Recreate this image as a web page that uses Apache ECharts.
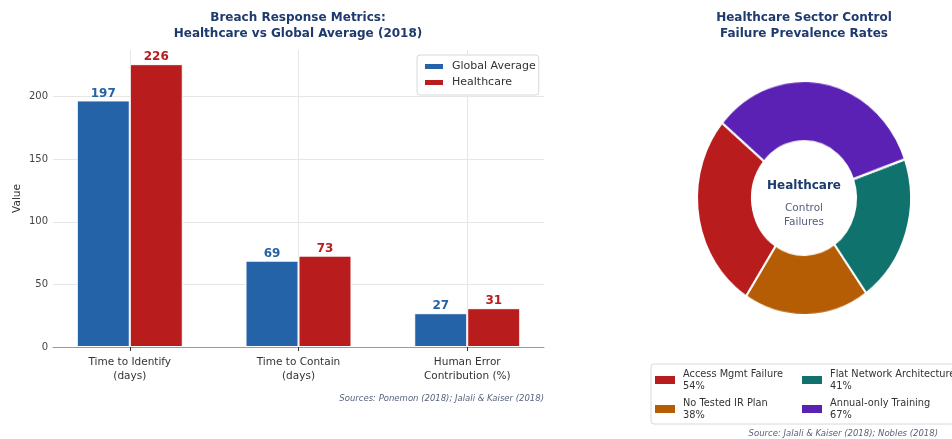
<!DOCTYPE html>
<html><head><meta charset="utf-8">
<script src="https://cdn.jsdelivr.net/npm/echarts@6/dist/echarts.min.js"></script>
<style>
html,body{margin:0;padding:0;background:#fff;}
#main{position:absolute;left:0;top:0;width:952px;height:439px;}
#pie{position:absolute;left:0;top:0;width:952px;height:439px;transform-origin:804px 198px;transform:scaleY(1.0935);pointer-events:none;}
</style></head><body>
<div id="main"></div><div id="pie"></div>
<script>
const categories = ['Time to Identify\n(days)', 'Time to Contain\n(days)', 'Human Error\nContribution (%)'];
const globalAverage = [197, 69, 27];
const healthcare = [226, 73, 31];
const yTicks = [0, 50, 100, 150, 200];
const failureNames = ['Access Mgmt Failure', 'No Tested IR Plan', 'Flat Network Architecture', 'Annual-only Training'];
const failureRates = [54, 38, 41, 67];

const BLUE = '#2563a8', RED = '#b91c1c', NAVY = '#1e3a6e';
const pieColors = ['#b91c1c', '#b45d04', '#0f726c', '#5b21b4'];
const FONT = 'DejaVu Sans';
const catIdx = categories.map((c, i) => i);

const pieData = failureNames.map((n, i) => ({ name: n, value: failureRates[i], itemStyle: { color: pieColors[i] } }));
const legendFmt = name => name + '\n' + failureRates[failureNames.indexOf(name)] + '%';

const main = echarts.init(document.getElementById('main'), null, { renderer: 'canvas' });
main.setOption({
  animation: false,
  textStyle: { fontFamily: FONT },
  title: [
    { text: 'Breach Response Metrics:\nHealthcare vs Global Average (2018)', left: 298, top: 10, textAlign: 'center', padding: 0,
      textStyle: { fontFamily: FONT, fontWeight: 'bold', fontSize: 12, color: NAVY, lineHeight: 16 } },
    { text: 'Healthcare Sector Control\nFailure Prevalence Rates', left: 804, top: 10, textAlign: 'center', padding: 0,
      textStyle: { fontFamily: FONT, fontWeight: 'bold', fontSize: 12, color: NAVY, lineHeight: 16 } },
    { text: 'Sources: Ponemon (2018); Jalali & Kaiser (2018)', right: 408, top: 394, padding: 0,
      textStyle: { fontFamily: FONT, fontStyle: 'italic', fontWeight: 'normal', fontSize: 8.5, color: '#56627a' } },
    { text: 'Source: Jalali & Kaiser (2018); Nobles (2018)', right: 14, top: 429, padding: 0,
      textStyle: { fontFamily: FONT, fontStyle: 'italic', fontWeight: 'normal', fontSize: 8.5, color: '#56627a' } },
    { text: 'Healthcare', left: 804, top: 180, textAlign: 'center', padding: 0,
      textStyle: { fontFamily: FONT, fontWeight: 'bold', fontSize: 12, color: NAVY } },
    { text: 'Control\nFailures', left: 804, top: 201, textAlign: 'center', padding: 0,
      textStyle: { fontFamily: FONT, fontWeight: 'normal', fontSize: 10.5, color: '#55607a', lineHeight: 14 } }
  ],
  legend: [
    { data: ['Global Average', 'Healthcare'], orient: 'vertical', left: 417, top: 55, icon: 'rect',
      itemWidth: 20, itemHeight: 7, itemGap: 5, padding: [6, 3, 7, 6], backgroundColor: '#fff',
      borderColor: '#d8d8d8', borderWidth: 1, borderRadius: 3,
      textStyle: { fontFamily: FONT, fontSize: 11, color: '#333', padding: [0, 0, 0, 3] } },
    { data: failureNames.slice(0, 2), orient: 'vertical', left: 651, top: 364, icon: 'rect',
      itemWidth: 20, itemHeight: 8, itemGap: 5, padding: [4, 180, 3, 4], backgroundColor: 'transparent',
      borderColor: '#d8d8d8', borderWidth: 1, borderRadius: 3, formatter: legendFmt,
      textStyle: { fontFamily: FONT, fontSize: 9.8, color: '#333', lineHeight: 12, padding: [0, 0, 0, 3] } },
    { data: failureNames.slice(2), orient: 'vertical', left: 798, top: 364, icon: 'rect',
      itemWidth: 20, itemHeight: 8, itemGap: 5, padding: [4, 4, 3, 4], formatter: legendFmt,
      textStyle: { fontFamily: FONT, fontSize: 9.8, color: '#333', lineHeight: 12, padding: [0, 0, 0, 3] } }
  ],
  grid: { left: 53, right: 408, top: 50, bottom: 92 },
  xAxis: {
    type: 'value', min: -0.455, max: 2.455, interval: 1,
    axisLine: { show: true, lineStyle: { color: '#9a9a9a', width: 1 } },
    axisTick: { show: true, customValues: catIdx, length: 4, lineStyle: { color: '#333' } },
    axisLabel: { customValues: catIdx, formatter: v => categories[Math.round(v)] || '', fontSize: 10.5, color: '#333', lineHeight: 14, margin: 8 },
    splitLine: { show: true, showMinLine: true, showMaxLine: true, lineStyle: { color: '#e6e6e6' } }
  },
  yAxis: {
    type: 'value', min: 0, max: 237.3, interval: 50,
    name: 'Value', nameLocation: 'middle', nameGap: 30, nameMoveOverlap: false, nameTextStyle: { fontSize: 10.5, color: '#333' },
    axisLine: { show: false }, axisTick: { show: false },
    axisLabel: { customValues: yTicks, fontSize: 10, color: '#444', margin: 5 },
    splitLine: { show: true, showMinLine: false, showMaxLine: false, lineStyle: { color: '#e6e6e6' } }
  },
  series: [
    { type: 'bar', name: 'Global Average', data: globalAverage.map((v, i) => [i, v]), barWidth: 53, barGap: '0%',
      itemStyle: { color: BLUE, borderColor: '#fff', borderWidth: 1 },
      label: { show: true, position: 'top', distance: 1, fontWeight: 'bold', fontSize: 12, color: BLUE, formatter: p => p.value[1] } },
    { type: 'bar', name: 'Healthcare', data: healthcare.map((v, i) => [i, v]), barWidth: 53, barGap: '0%',
      itemStyle: { color: RED, borderColor: '#fff', borderWidth: 1 },
      label: { show: true, position: 'top', distance: 1, fontWeight: 'bold', fontSize: 12, color: RED, formatter: p => p.value[1] } },
    { type: 'pie', name: 'legendProxy', center: [-1000, -1000], radius: [0, 0], silent: true,
      label: { show: false }, labelLine: { show: false }, itemStyle: { borderWidth: 0 }, data: pieData }
  ]
});

const pie = echarts.init(document.getElementById('pie'), null, { renderer: 'canvas' });
pie.setOption({
  animation: false,
  series: [{
    type: 'pie', center: [804, 198], radius: [52, 107], startAngle: 140, clockwise: false, silent: true,
    label: { show: false }, labelLine: { show: false },
    itemStyle: { borderColor: '#fff', borderWidth: 2 },
    data: pieData
  }]
});
</script>
</body></html>
